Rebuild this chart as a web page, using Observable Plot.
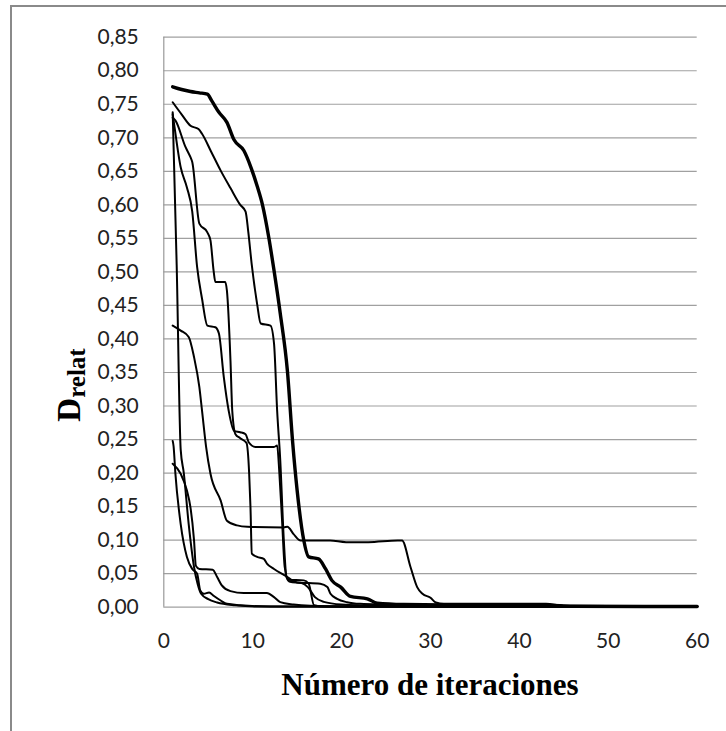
<!DOCTYPE html>
<html>
<head>
<meta charset="utf-8">
<script src="https://cdn.jsdelivr.net/npm/d3@7"></script>
<script src="https://cdn.jsdelivr.net/npm/@observablehq/plot@0.6"></script>
<style>
  html, body { margin: 0; padding: 0; background: #fff; }
  #wrap { position: relative; width: 726px; height: 731px; overflow: hidden; }
  #border { position: absolute; left: 10px; top: 5px; width: 730px; height: 740px;
            border-top: 2px solid #8a8a8a; border-left: 2px solid #8a8a8a; }
  #chart { position: absolute; left: 0; top: 0; }
</style>
</head>
<body>
<div id="wrap"><div id="border"></div><div id="chart"></div></div>
<script>
// ---- data ----
const xTicks = [0, 10, 20, 30, 40, 50, 60];
const yTicks = [0, 0.05, 0.10, 0.15, 0.20, 0.25, 0.30, 0.35, 0.40, 0.45, 0.50, 0.55, 0.60, 0.65, 0.70, 0.75, 0.80, 0.85];
const xLabel = "Número de iteraciones";
const yLabelMain = "D";
const yLabelSub = "relat";

const serieT = [[1,0.776],[2,0.772],[3,0.769],[4,0.767],[4.9,0.765],[5.4,0.755],[6.2,0.738],[7.1,0.723],[7.9,0.697],[9,0.681],[9.8,0.656],[10.5,0.628],[11.1,0.6],[11.8,0.552],[12.4,0.502],[13.1,0.438],[13.9,0.353],[14.5,0.245],[15,0.174],[15.75,0.0995],[16.3,0.075],[17.4,0.072],[18.2,0.057],[18.9,0.04],[19.9,0.03],[21,0.016],[22.9,0.0125],[24,0.006],[27,0.004],[35,0.003],[43,0.003],[46,0.0015],[60,0.001]];
const serieB = [[1,0.753],[2,0.735],[3,0.718],[3.9,0.713],[4.3,0.706],[5.3,0.68],[6.4,0.651],[7.5,0.625],[8.6,0.6],[9.2,0.59],[9.5,0.56],[9.9,0.51],[10.5,0.452],[10.9,0.423],[12,0.42],[12.4,0.393],[12.75,0.293],[13.1,0.219],[13.5,0.1],[13.8,0.045],[14.2,0.038],[15.5,0.036],[16.2,0.03],[17,0.015],[18,0.008],[20,0.004],[24,0.002],[30,0.0015],[60,0.0005]];
const serieC1 = [[1,0.738],[1.45,0.51],[1.9,0.235],[2.25,0.2],[2.8,0.124],[3.4,0.06],[3.8,0.035],[4.2,0.02],[5,0.012],[6,0.007],[8,0.003],[11,0.001],[60,0.0005]];
const serieC2 = [[1,0.735],[1.1,0.726],[1.9,0.656],[2.6,0.626],[3.2,0.59],[3.75,0.507],[4.3,0.46],[4.9,0.42],[5.8,0.4175],[6.2,0.408],[6.75,0.343],[7.3,0.293],[7.9,0.263],[8.6,0.261],[9.2,0.258],[9.55,0.246],[10.3,0.239],[12.4,0.239],[12.75,0.241],[13,0.2],[13.3,0.13],[13.6,0.06],[14,0.041],[15.75,0.04],[16.3,0.035],[16.9,0.003],[18,0.001],[60,0.0005]];
const serieC3 = [[1,0.73],[1.3,0.726],[2.45,0.686],[3,0.671],[3.2,0.664],[4,0.572],[4.9,0.559],[5.25,0.547],[5.6,0.502],[5.8,0.485],[6.9,0.485],[7.1,0.472],[7.5,0.368],[7.7,0.293],[8.06,0.258],[8.6,0.252],[9.3,0.245],[9.6,0.2],[9.75,0.149],[9.9,0.08],[10.5,0.075],[11.25,0.072],[11.6,0.065],[12.4,0.057],[13.9,0.045],[14.45,0.04],[15,0.037],[17.6,0.035],[18.4,0.03],[18.75,0.02],[19.5,0.0125],[20.6,0.0075],[22.1,0.005],[25,0.004],[30,0.003],[43,0.003],[46,0.001],[60,0.0005]];
const serieD = [[1,0.42],[1.9,0.4125],[2.8,0.403],[3.4,0.373],[4,0.328],[4.3,0.293],[4.75,0.24],[5.25,0.199],[6.4,0.159],[7.1,0.129],[8.25,0.122],[9.4,0.12],[13.5,0.119],[13.9,0.12],[14.6,0.109],[15.4,0.0995],[18.7,0.0995],[20.5,0.097],[23,0.097],[26.3,0.0995],[26.8,0.0995],[27.75,0.06],[28.5,0.03],[29.1,0.02],[30,0.014],[30.6,0.007],[31.5,0.005],[43,0.005],[45,0.002],[60,0.001]];
const serieF = [[1,0.214],[1.9,0.199],[2.6,0.174],[3,0.149],[3.4,0.1],[3.6,0.062],[4,0.057],[5.5,0.056],[6,0.045],[6.5,0.033],[7.5,0.024],[9,0.021],[11.6,0.021],[12.4,0.015],[13.1,0.0075],[14.6,0.004],[16.5,0.002],[20,0.001],[60,0.0005]];
const serieG = [[1,0.248],[1.1,0.24],[1.3,0.2],[1.9,0.124],[2.6,0.075],[3.2,0.057],[3.75,0.05],[4.1,0.025],[4.5,0.02],[5.1,0.022],[5.6,0.017],[6.4,0.01],[7.1,0.005],[8.6,0.003],[12,0.001],[60,0.0005]];

const thinSeries = [serieB, serieC1, serieC2, serieC3, serieD, serieF, serieG];

const fmt = d => d.toFixed(2).replace(".", ",");

const lineOpts = (w) => ({x: d => d[0], y: d => d[1], stroke: "#000", strokeWidth: w, curve: "monotone-x", strokeLinejoin: "round"});

const chart = Plot.plot({
  width: 726,
  height: 731,
  marginLeft: 163.3,
  marginRight: 29.3,
  marginTop: 36.7,
  marginBottom: 124.3,
  style: {fontFamily: "Lato, 'Open Sans', sans-serif", fontSize: "21px", color: "#222", background: "transparent"},
  x: {domain: [0, 60], ticks: xTicks, tickSize: 0, tickPadding: 26, label: null},
  y: {domain: [0, 0.85], ticks: yTicks, tickFormat: fmt, tickSize: 0, tickPadding: 25, label: null},
  marks: [
    Plot.gridY(yTicks, {stroke: "#a0a0a0", strokeOpacity: 1, strokeWidth: 1.2}),
    Plot.ruleX([0], {stroke: "#999", strokeWidth: 1.2}),
    ...thinSeries.map(s => Plot.line(s, lineOpts(2))),
    Plot.line(serieT, lineOpts(3.4))
  ]
});
document.getElementById("chart").appendChild(chart);

// axis titles
const svg = d3.select(chart);
svg.append("text")
  .attr("x", 430).attr("y", 695)
  .attr("text-anchor", "middle")
  .attr("font-family", "'Liberation Serif', 'Times New Roman', serif")
  .attr("font-weight", "bold")
  .attr("font-size", 31)
  .attr("fill", "#000")
  .text(xLabel);

const yl = svg.append("text")
  .attr("transform", "translate(80,385) rotate(-90)")
  .attr("font-family", "'Liberation Serif', 'Times New Roman', serif")
  .attr("font-weight", "bold")
  .attr("fill", "#000");
yl.append("tspan").attr("font-size", 33).text(yLabelMain);
yl.append("tspan").attr("font-size", 25).attr("dy", 5).text(yLabelSub);
</script>
</body>
</html>
